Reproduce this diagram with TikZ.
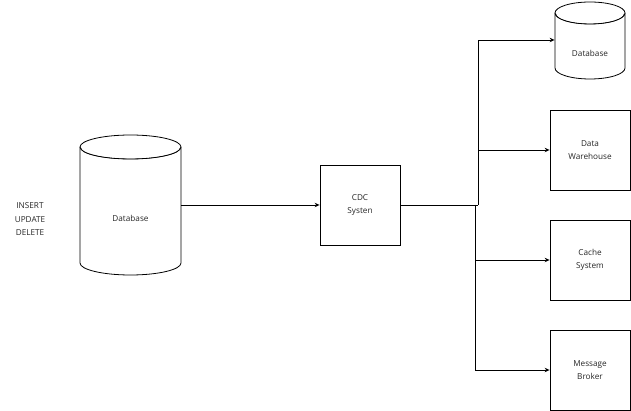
\documentclass[tikz,border=0pt]{standalone}
\usepackage{fontspec}
\setmainfont{Open Sans}
\usetikzlibrary{arrows.meta}
\begin{document}
\begin{tikzpicture}[x=1pt,y=-1pt,
  line width=0.8pt,
  lbl/.style={font=\fontsize{8.2}{13.5}\selectfont, align=center, text=black!85},
  boxs/.style={draw, minimum width=80pt, minimum height=80pt, inner sep=0pt, lbl},
  arr/.style={-{Stealth[length=5pt,width=4.5pt,open]}, line width=0.7pt}
]
\useasboundingbox (0,0) rectangle (631,411);
% left database cylinder
\node[minimum width=101pt, minimum height=140pt, inner sep=0pt] (db1) at (130.5,205) {};
\node[lbl] (db1lbl) at (130.5,218) {Database};
\draw (80,147) -- (80,263) arc[start angle=180,end angle=360,x radius=50.5pt,y radius=12pt] -- (181,147);
\draw (130.5,147) ellipse[x radius=50.5pt,y radius=12pt];
\draw[line width=0.4pt] (81,148) arc[start angle=180,end angle=360,x radius=49.5pt,y radius=11pt];
% right database cylinder
\node[minimum width=70pt, minimum height=80pt, inner sep=0pt] (db2) at (590,40) {};
\node[lbl] (db2lbl) at (590,53) {Database};
\draw (555,13) -- (555,68) arc[start angle=180,end angle=360,x radius=35pt,y radius=11pt] -- (625,13);
\draw (590,13) ellipse[x radius=35pt,y radius=11pt];
\draw[line width=0.4pt] (556,14) arc[start angle=180,end angle=360,x radius=34pt,y radius=10pt];
% operations
\node[lbl] (ops) at (30,219.5) {INSERT\\UPDATE\\DELETE};
% boxes
\node[boxs] (cdc) at (360,205) {CDC\\Systen};
\node[boxs] (dw) at (590,150) {Data\\Warehouse};
\node[boxs] (cache) at (590,260) {Cache\\System};
\node[boxs] (mb) at (590,370) {Message\\Broker};
% connectors
\coordinate (j1) at (478,205);
\coordinate (j2) at (475,205);
\draw[arr] (db1.east) -- (cdc.west);
\draw (cdc.east) -- (j1);
\draw[arr] (j1) |- (db2.west);
\draw[arr] (j1) |- (dw.west);
\draw[arr] (j2) |- (cache.west);
\draw[arr] (j2) |- (mb.west);
\end{tikzpicture}
\end{document}
